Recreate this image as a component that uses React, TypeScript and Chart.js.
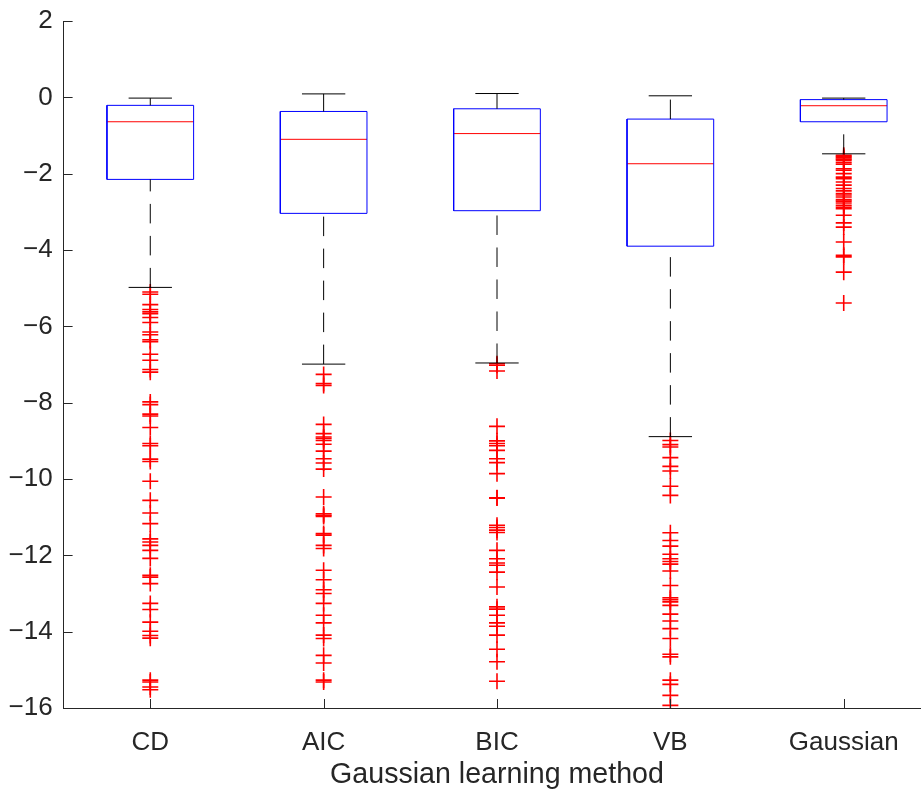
import React, { useEffect, useRef } from "react";
import { Chart, registerables } from "chart.js";

Chart.register(...registerables);

// Box-plot summary per learning method
const categories = ["CD", "AIC", "BIC", "VB", "Gaussian"];
const upperWhisker = [-0.02, 0.09, 0.1, 0.04, -0.02];
const upperQuartile = [-0.21, -0.37, -0.3, -0.57, -0.06];
const medians = [-0.64, -1.1, -0.95, -1.74, -0.22];
const lowerQuartile = [-2.15, -3.04, -2.97, -3.9, -0.64];
const lowerWhisker = [-4.98, -6.99, -6.96, -8.89, -1.48];

// Outliers beyond the whiskers
const outliersCD = [
  -5.1, -5.16, -5.43, -5.56, -5.62, -5.67, -5.77, -5.9, -6.15, -6.22, -6.35, -6.4,
  -6.73, -6.89, -7.13, -7.2, -7.98, -8.05, -8.3, -8.35, -8.65, -9.07, -9.13, -9.48,
  -9.54, -10.06, -10.56, -10.89, -11.17, -11.57, -11.65, -11.74, -11.87, -12.08,
  -12.52, -12.57, -12.74, -13.26, -13.42, -13.75, -13.99, -14.1, -14.17, -15.27,
  -15.32, -15.45, -15.52,
];
const outliersAIC = [
  -7.26, -7.5, -7.55, -8.57, -8.81, -8.9, -8.94, -8.99, -9.09, -9.27, -9.47, -9.58,
  -9.74, -10.47, -10.91, -10.95, -10.98, -11.43, -11.47, -11.74, -11.82, -12.39,
  -12.64, -12.9, -13.0, -13.26, -13.57, -13.77, -14.09, -14.18, -14.62, -14.82,
  -15.27, -15.32,
];
const outliersBIC = [
  -6.98, -7.02, -7.17, -8.62, -9.0, -9.07, -9.13, -9.25, -9.47, -9.57, -9.86, -10.49,
  -10.5, -11.21, -11.27, -11.34, -11.4, -11.87, -12.09, -12.2, -12.26, -12.44,
  -12.83, -13.35, -13.41, -13.57, -13.77, -13.86, -14.09, -14.46, -14.79, -15.3,
];
const outliersVB = [
  -8.99, -9.1, -9.16, -9.44, -9.67, -9.79, -10.19, -10.43, -11.41, -11.61, -11.76,
  -11.97, -12.09, -12.16, -12.23, -12.41, -12.79, -13.11, -13.16, -13.22, -13.31,
  -13.54, -13.72, -13.92, -14.18, -14.59, -14.66, -15.27, -15.38, -15.67, -15.93,
];
const outliersGaussian = [
  -1.52, -1.55, -1.58, -1.62, -1.65, -1.7, -1.75, -1.87, -1.91, -2.0, -2.09, -2.13,
  -2.22, -2.3, -2.39, -2.45, -2.52, -2.56, -2.61, -2.68, -2.72, -2.77, -2.83, -2.88,
  -2.92, -3.09, -3.29, -3.4, -3.79, -4.14, -4.18, -4.58, -5.39,
];
const outlierGroups = [outliersCD, outliersAIC, outliersBIC, outliersVB, outliersGaussian];

const yTicks = [2, 0, -2, -4, -6, -8, -10, -12, -14, -16];

const BOX_HALF = 0.25;
const CAP_HALF = 0.125;
const AXIS_COLOR = "#262626";
const FONT_FAMILY = "'Liberation Sans', Arial, Helvetica, sans-serif";

type Pt = { x: number; y: number | null };

function boxOutlines(): Pt[] {
  const pts: Pt[] = [];
  categories.forEach((_, i) => {
    const c = i + 1;
    pts.push(
      { x: c - BOX_HALF, y: lowerQuartile[i] },
      { x: c + BOX_HALF, y: lowerQuartile[i] },
      { x: c + BOX_HALF, y: upperQuartile[i] },
      { x: c - BOX_HALF, y: upperQuartile[i] },
      { x: c - BOX_HALF, y: lowerQuartile[i] },
      { x: c, y: null }
    );
  });
  return pts;
}

function medianLines(): Pt[] {
  const pts: Pt[] = [];
  categories.forEach((_, i) => {
    const c = i + 1;
    pts.push({ x: c - BOX_HALF, y: medians[i] }, { x: c + BOX_HALF, y: medians[i] }, { x: c, y: null });
  });
  return pts;
}

function whiskerLines(): Pt[] {
  const pts: Pt[] = [];
  categories.forEach((_, i) => {
    const c = i + 1;
    pts.push(
      { x: c, y: lowerWhisker[i] },
      { x: c, y: lowerQuartile[i] },
      { x: c + 0.01, y: null },
      { x: c, y: upperQuartile[i] },
      { x: c, y: upperWhisker[i] },
      { x: c + 0.02, y: null }
    );
  });
  return pts;
}

function capLines(): Pt[] {
  const pts: Pt[] = [];
  categories.forEach((_, i) => {
    const c = i + 1;
    pts.push(
      { x: c - CAP_HALF, y: upperWhisker[i] },
      { x: c + CAP_HALF, y: upperWhisker[i] },
      { x: c, y: null },
      { x: c - CAP_HALF, y: lowerWhisker[i] },
      { x: c + CAP_HALF, y: lowerWhisker[i] },
      { x: c, y: null }
    );
  });
  return pts;
}

function outlierPoints(): Pt[] {
  const pts: Pt[] = [];
  outlierGroups.forEach((group, i) => {
    group.forEach((v) => pts.push({ x: i + 1, y: v }));
  });
  return pts;
}

// Short tick marks pointing into the plot area
const inwardTicks = {
  id: "inwardTicks",
  afterDraw(chart: any) {
    const { ctx, chartArea, scales } = chart;
    const len = 9;
    ctx.save();
    ctx.strokeStyle = AXIS_COLOR;
    ctx.lineWidth = 1;
    ctx.beginPath();
    yTicks.forEach((v) => {
      const py = Math.round(scales.y.getPixelForValue(v)) + 0.5;
      ctx.moveTo(chartArea.left, py);
      ctx.lineTo(chartArea.left + len, py);
    });
    categories.forEach((_, i) => {
      const px = Math.round(scales.x.getPixelForValue(i + 1)) + 0.5;
      ctx.moveTo(px, chartArea.bottom);
      ctx.lineTo(px, chartArea.bottom - len);
    });
    ctx.stroke();
    ctx.restore();
  },
};

export default function App() {
  const canvasRef = useRef<HTMLCanvasElement | null>(null);

  useEffect(() => {
    if (!canvasRef.current) return;
    const lineBase = {
      showLine: true,
      pointRadius: 0,
      pointHoverRadius: 0,
      borderWidth: 1,
      tension: 0,
      fill: false,
      spanGaps: false,
    };
    const chart = new Chart(canvasRef.current, {
      type: "scatter",
      data: {
        datasets: [
          {
            ...lineBase,
            label: "whiskers",
            data: whiskerLines(),
            borderColor: "#000000",
            borderDash: [19.5, 12.5],
          },
          { ...lineBase, label: "caps", data: capLines(), borderColor: "#000000" },
          { ...lineBase, label: "boxes", data: boxOutlines(), borderColor: "#0000FF" },
          { ...lineBase, label: "medians", data: medianLines(), borderColor: "#FF0000" },
          {
            label: "outliers",
            data: outlierPoints(),
            showLine: false,
            pointStyle: "cross",
            pointRadius: 8,
            pointHoverRadius: 8,
            pointBorderWidth: 1.6,
            borderColor: "#FF0000",
            pointBorderColor: "#FF0000",
            backgroundColor: "#FF0000",
          },
        ] as any,
      },
      options: {
        animation: false,
        responsive: false,
        events: [],
        layout: { padding: { top: 21, right: 7.4, left: 0, bottom: 0 } },
        plugins: { legend: { display: false }, tooltip: { enabled: false } },
        scales: {
          x: {
            type: "linear",
            min: 0.5,
            max: 5.5,
            grid: { display: false, drawTicks: false },
            border: { display: true, color: AXIS_COLOR, width: 1 },
            afterBuildTicks: (scale: any) => {
              scale.ticks = categories.map((_, i) => ({ value: i + 1 }));
            },
            afterFit: (scale: any) => {
              scale.height = 89;
              scale.paddingLeft = 0;
              scale.paddingRight = 0;
            },
            ticks: {
              autoSkip: false,
              maxRotation: 0,
              padding: 19,
              color: AXIS_COLOR,
              font: { family: FONT_FAMILY, size: 26 },
              callback: (v: any) => categories[Math.round(Number(v)) - 1] ?? "",
            },
            title: {
              display: true,
              text: "Gaussian learning method",
              color: AXIS_COLOR,
              font: { family: FONT_FAMILY, size: 28.6 },
              padding: { top: 0, bottom: 5 },
            },
          },
          y: {
            type: "linear",
            min: -16,
            max: 2,
            grid: { display: false, drawTicks: false },
            border: { display: true, color: AXIS_COLOR, width: 1 },
            afterBuildTicks: (scale: any) => {
              scale.ticks = yTicks.map((v) => ({ value: v }));
            },
            afterFit: (scale: any) => {
              scale.width = 63.6;
              scale.paddingTop = 0;
              scale.paddingBottom = 0;
            },
            ticks: {
              padding: 11,
              color: AXIS_COLOR,
              font: { family: FONT_FAMILY, size: 26 },
              callback: (v: any) => String(v).replace("-", "\u2212"),
            },
          },
        },
      } as any,
      plugins: [inwardTicks],
    });
    return () => chart.destroy();
  }, []);

  return (
    <div style={{ position: "fixed", left: 0, top: 0, width: 940, height: 797, background: "#ffffff" }}>
      <canvas ref={canvasRef} width={940} height={797} style={{ display: "block" }} />
    </div>
  );
}
